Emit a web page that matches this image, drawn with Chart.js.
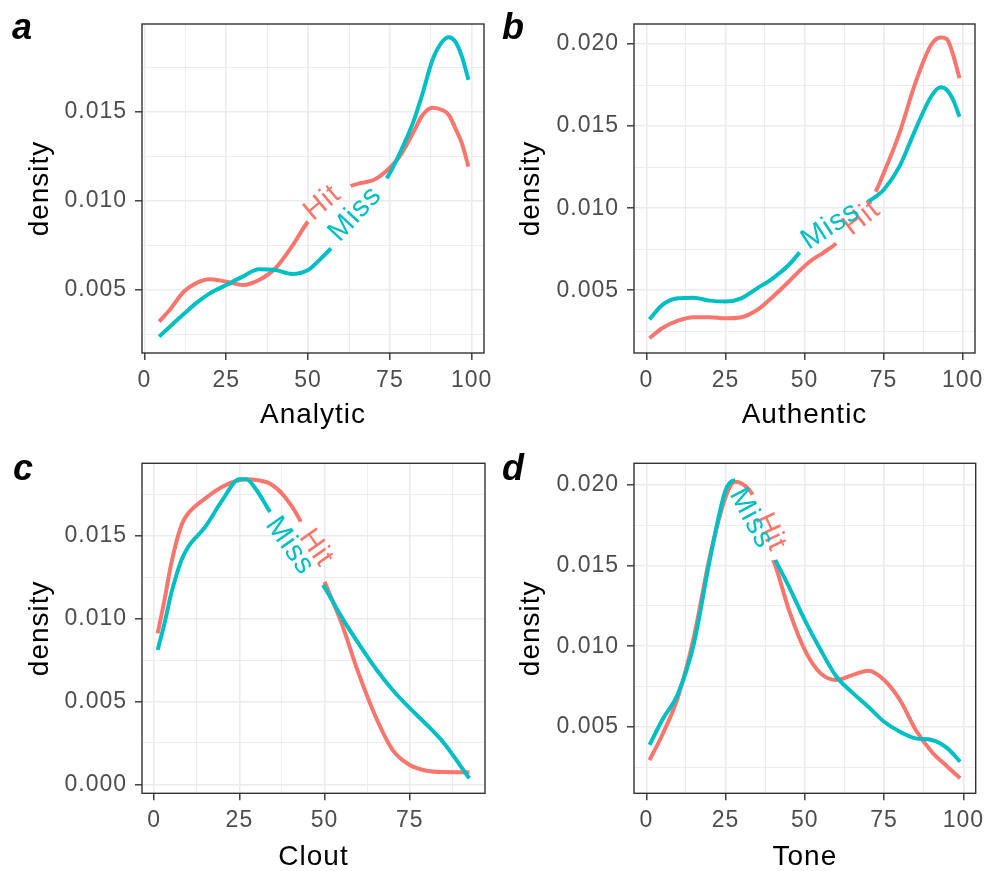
<!DOCTYPE html>
<html>
<head>
<meta charset="utf-8">
<script src="https://cdn.jsdelivr.net/npm/chart.js@4.4.1/dist/chart.umd.min.js"></script>
<style>
  html, body { margin: 0; padding: 0; background: #fff; overflow: hidden; }
  #wrap { position: relative; width: 988px; height: 871px; }
  canvas { position: absolute; }
</style>
</head>
<body>
<div id="wrap">
  <canvas id="panel-a" width="494" height="435" style="left:0;top:0"></canvas>
  <canvas id="panel-b" width="494" height="435" style="left:494px;top:0"></canvas>
  <canvas id="panel-c" width="494" height="436" style="left:0;top:435px"></canvas>
  <canvas id="panel-d" width="494" height="436" style="left:494px;top:435px"></canvas>
</div>
<script>
// --- data (density estimates) ---
const analyticX    = [4.5, 8, 12, 16, 20, 25, 30, 35, 40, 45, 50, 54, 57, 60, 63, 66, 70, 74, 78, 82, 85, 88, 91, 93, 95, 97, 99];
const analyticHit  = [0.00322, 0.00395, 0.0049, 0.0054, 0.0056, 0.00547, 0.00528, 0.00556, 0.00622, 0.00743, 0.00884, 0.0095, 0.0101, 0.0105, 0.01084, 0.0110, 0.01118, 0.0117, 0.0125, 0.0138, 0.01483, 0.01524, 0.01511, 0.01483, 0.01408, 0.01324, 0.01193];
const analyticMiss = [0.00238, 0.00298, 0.00365, 0.00429, 0.00481, 0.00528, 0.00575, 0.00616, 0.00612, 0.0059, 0.00612, 0.00678, 0.00734, 0.0080, 0.0088, 0.0096, 0.0105, 0.01127, 0.01268, 0.01437, 0.01605, 0.01792, 0.01895, 0.0192, 0.01895, 0.01811, 0.0168];

const authenticX    = [1, 5, 10, 15, 20, 25, 30, 35, 40, 45, 48.5, 52, 56, 60, 64, 67, 70, 72.5, 75, 80, 85, 90, 93, 95, 97, 99];
const authenticHit  = [0.00208, 0.00269, 0.00315, 0.00336, 0.00336, 0.00329, 0.00336, 0.0038, 0.00461, 0.00552, 0.0062, 0.0068, 0.0073, 0.00786, 0.0088, 0.0096, 0.0103, 0.011, 0.01212, 0.01456, 0.0176, 0.01994, 0.0204, 0.0203, 0.01933, 0.01791];
const authenticMiss = [0.00323, 0.0041, 0.00451, 0.00455, 0.00437, 0.00431, 0.00451, 0.00512, 0.00573, 0.00654, 0.0073, 0.0079, 0.0085, 0.0091, 0.0096, 0.0100, 0.0104, 0.0107, 0.01111, 0.01253, 0.01476, 0.01679, 0.01736, 0.0172, 0.01659, 0.01557];

const cloutX    = [1, 3, 5, 8, 10, 15, 20, 25, 27, 30, 34, 38, 43, 46, 49.5, 50, 55, 60, 65, 70, 75, 80, 85, 92.5];
const cloutHit  = [0.00912, 0.01113, 0.01335, 0.01566, 0.01637, 0.01727, 0.01797, 0.01838, 0.01842, 0.01838, 0.01815, 0.01745, 0.01586, 0.0142, 0.0125, 0.01224, 0.00972, 0.0067, 0.00408, 0.00207, 0.00117, 0.00082, 0.00074, 0.00073];
const cloutMiss = [0.00811, 0.00972, 0.01154, 0.01355, 0.01435, 0.01556, 0.01717, 0.01842, 0.01842, 0.01778, 0.01646, 0.0153, 0.0139, 0.0130, 0.01204, 0.0119, 0.0101, 0.0085, 0.0070, 0.0057, 0.0046, 0.0036, 0.0025, 0.00036];

const toneX    = [1, 5, 10, 15, 20, 25, 28, 30, 33.5, 36, 40, 40.7, 45, 50, 55, 60, 65, 70, 75, 80, 85, 90, 95, 99];
const toneHit  = [0.00293, 0.00449, 0.00686, 0.01058, 0.01554, 0.01926, 0.0202, 0.0201, 0.0194, 0.0180, 0.01534, 0.0150, 0.01224, 0.00976, 0.00831, 0.0079, 0.0082, 0.00847, 0.0079, 0.00666, 0.0048, 0.00345, 0.00252, 0.0018];
const toneMiss = [0.00387, 0.00542, 0.00707, 0.01017, 0.01534, 0.01968, 0.0203, 0.0200, 0.0188, 0.0175, 0.0156, 0.01534, 0.01368, 0.01162, 0.00976, 0.0081, 0.00712, 0.00624, 0.00531, 0.00469, 0.00428, 0.00418, 0.00366, 0.00283];

// tick values
const xMajor100 = [0, 25, 50, 75, 100];
const xMajor75  = [0, 25, 50, 75];
const xMinor    = [12.5, 37.5, 62.5, 87.5];
const yMajorA   = [0.005, 0.010, 0.015];
const yMajorBD  = [0.005, 0.010, 0.015, 0.020];
const yMajorC   = [0.000, 0.005, 0.010, 0.015];
const yMinor    = [0.0025, 0.0075, 0.0125, 0.0175];

const HIT = '#F8766D';
const MISS = '#00BFC4';
const FONT = '"Liberation Sans", Arial, sans-serif';

const panels = [
  { id: 'panel-a', letter: 'a', title: 'Analytic', x: analyticX, hit: analyticHit, miss: analyticMiss,
    xMin: -0.75, xMax: 103.75, yMin: 0.00146, yMax: 0.01994, xMajor: xMajor100, yMajor: yMajorA,
    hitGap: [50, 63], missGap: [57, 74],
    hitLabel: [54.4, 0.00989, -40], missLabel: [64.4, 0.00927, -47],
    area: { left: 142, top: 24, right: 484, bottom: 353 }, h: 435,
    letterAt: [12, 39], yTitlePad: 26.5, xTitlePad: 6 },
  { id: 'panel-b', letter: 'b', title: 'Authentic', x: authenticX, hit: authenticHit, miss: authenticMiss,
    xMin: -3.9, xMax: 103.9, yMin: 0.00118, yMax: 0.02122, xMajor: xMajor100, yMajor: yMajorBD,
    hitGap: [60, 72.5], missGap: [48.5, 70],
    hitLabel: [68.1, 0.0094, -38], missLabel: [58.3, 0.00892, -33],
    area: { left: 140, top: 24, right: 481, bottom: 353 }, h: 435,
    letterAt: [8, 39], yTitlePad: 23.5, xTitlePad: 6 },
  { id: 'panel-c', letter: 'c', title: 'Clout', x: cloutX, hit: cloutHit, miss: cloutMiss,
    xMin: -3.6, xMax: 97.1, yMin: -0.00054, yMax: 0.01939, xMajor: xMajor75, yMajor: yMajorC,
    hitGap: [43, 50], missGap: [34, 49.5],
    hitLabel: [47.5, 0.01427, 55], missLabel: [39.8, 0.0144, 55],
    area: { left: 142, top: 28.3, right: 485, bottom: 358.3 }, h: 436,
    letterAt: [13, 45], yTitlePad: 26.5, xTitlePad: 0 },
  { id: 'panel-d', letter: 'd', title: 'Tone', x: toneX, hit: toneHit, miss: toneMiss,
    xMin: -3.9, xMax: 103.9, yMin: 0.00087, yMax: 0.02135, xMajor: xMajor100, yMajor: yMajorBD,
    hitGap: [33.5, 40], missGap: [28, 40.7],
    hitLabel: [39.1, 0.01707, 65], missLabel: [33.1, 0.01794, 62],
    area: { left: 140, top: 28.3, right: 481.7, bottom: 358.3 }, h: 436,
    letterAt: [8, 45], yTitlePad: 23.5, xTitlePad: 0 }
];

// text labels drawn along the curves + panel border + panel letter
const decorations = {
  id: 'decorations',
  beforeDraw(chart) {
    // the reference text is set a little looser than the canvas default
    chart.ctx.letterSpacing = '1px';
  },
  afterDatasetsDraw(chart, args, opts) {
    const { ctx, scales: { x, y } } = chart;
    opts.labels.forEach(function(l) {
      ctx.save();
      ctx.translate(x.getPixelForValue(l.at[0]), y.getPixelForValue(l.at[1]));
      ctx.rotate(l.at[2] * Math.PI / 180);
      ctx.font = '29px ' + FONT;
      ctx.fillStyle = l.color;
      ctx.textAlign = 'center';
      ctx.textBaseline = 'middle';
      ctx.fillText(l.text, 0, 0);
      ctx.restore();
    });
  },
  afterDraw(chart, args, opts) {
    const { ctx, chartArea: a } = chart;
    ctx.save();
    ctx.strokeStyle = '#333333';
    ctx.lineWidth = 1.4;
    ctx.strokeRect(a.left, a.top, a.right - a.left, a.bottom - a.top);
    ctx.letterSpacing = '0px';
    ctx.font = 'italic bold 36px ' + FONT;
    ctx.fillStyle = '#000';
    ctx.textAlign = 'left';
    ctx.textBaseline = 'alphabetic';
    ctx.fillText(opts.letter, opts.letterAt[0], opts.letterAt[1]);
    ctx.restore();
  }
};

function gapped(ctx, gap) {
  return ctx.p0.parsed.x >= gap[0] - 1e-6 && ctx.p1.parsed.x <= gap[1] + 1e-6;
}

panels.forEach(function(p) {
  const canvas = document.getElementById(p.id);
  const W = canvas.width;
  const xTicks = p.xMajor.concat(xMinor).filter(v => v > p.xMin && v < p.xMax);
  const yTicks = p.yMajor.concat(yMinor).filter(v => v > p.yMin && v < p.yMax);
  const isMajor = (list, v) => list.some(m => Math.abs(m - v) < 1e-9);

  const series = function(label, ys, color, gap) {
    return {
      label: label,
      data: p.x.map((v, i) => ({ x: v, y: ys[i] })),
      borderColor: color,
      borderWidth: 4,
      pointRadius: 0,
      fill: false,
      cubicInterpolationMode: 'monotone',
      segment: {
        borderColor: ctx => gapped(ctx, gap) ? 'rgba(0,0,0,0)' : undefined
      }
    };
  };

  new Chart(canvas.getContext('2d'), {
    type: 'line',
    data: {
      datasets: [
        series('Miss', p.miss, MISS, p.missGap),
        series('Hit', p.hit, HIT, p.hitGap)
      ]
    },
    options: {
      responsive: false,
      animation: false,
      layout: { padding: { left: 0, top: p.area.top, right: W - p.area.right, bottom: 0 } },
      plugins: {
        legend: { display: false },
        tooltip: { enabled: false },
        decorations: {
          letter: p.letter,
          letterAt: p.letterAt,
          labels: [
            { text: 'Hit', color: HIT, at: p.hitLabel },
            { text: 'Miss', color: MISS, at: p.missLabel }
          ]
        }
      },
      scales: {
        x: {
          type: 'linear',
          min: p.xMin,
          max: p.xMax,
          afterBuildTicks: axis => { axis.ticks = xTicks.map(v => ({ value: v })); },
          afterFit: axis => { axis.height = p.h - p.area.bottom; },
          border: { display: false },
          grid: {
            color: '#EBEBEB',
            lineWidth: c => isMajor(p.xMajor, c.tick.value) ? 1.6 : 0.9,
            tickLength: 7,
            tickColor: c => isMajor(p.xMajor, c.tick.value) ? '#333333' : 'rgba(0,0,0,0)',
            tickWidth: 1.4
          },
          ticks: {
            autoSkip: false, maxRotation: 0, minRotation: 0, padding: 7,
            color: '#4D4D4D',
            font: { family: FONT, size: 23 },
            callback: v => isMajor(p.xMajor, v) ? String(v) : ''
          },
          title: {
            display: true, text: p.title, color: '#000',
            font: { family: FONT, size: 28, lineHeight: 1 },
            padding: { top: 0, bottom: p.xTitlePad }
          }
        },
        y: {
          type: 'linear',
          min: p.yMin,
          max: p.yMax,
          afterBuildTicks: axis => { axis.ticks = yTicks.map(v => ({ value: v })); },
          afterFit: axis => { axis.width = p.area.left; },
          border: { display: false },
          grid: {
            color: '#EBEBEB',
            lineWidth: c => isMajor(p.yMajor, c.tick.value) ? 1.6 : 0.9,
            tickLength: 7,
            tickColor: c => isMajor(p.yMajor, c.tick.value) ? '#333333' : 'rgba(0,0,0,0)',
            tickWidth: 1.4
          },
          ticks: {
            autoSkip: false, padding: 8,
            color: '#4D4D4D',
            font: { family: FONT, size: 23 },
            callback: v => isMajor(p.yMajor, v) ? v.toFixed(3) : ''
          },
          title: {
            display: true, text: 'density', color: '#000',
            font: { family: FONT, size: 28, lineHeight: 1 },
            padding: { top: p.yTitlePad, bottom: 0 }
          }
        }
      }
    },
    plugins: [decorations]
  });
});
</script>
</body>
</html>
